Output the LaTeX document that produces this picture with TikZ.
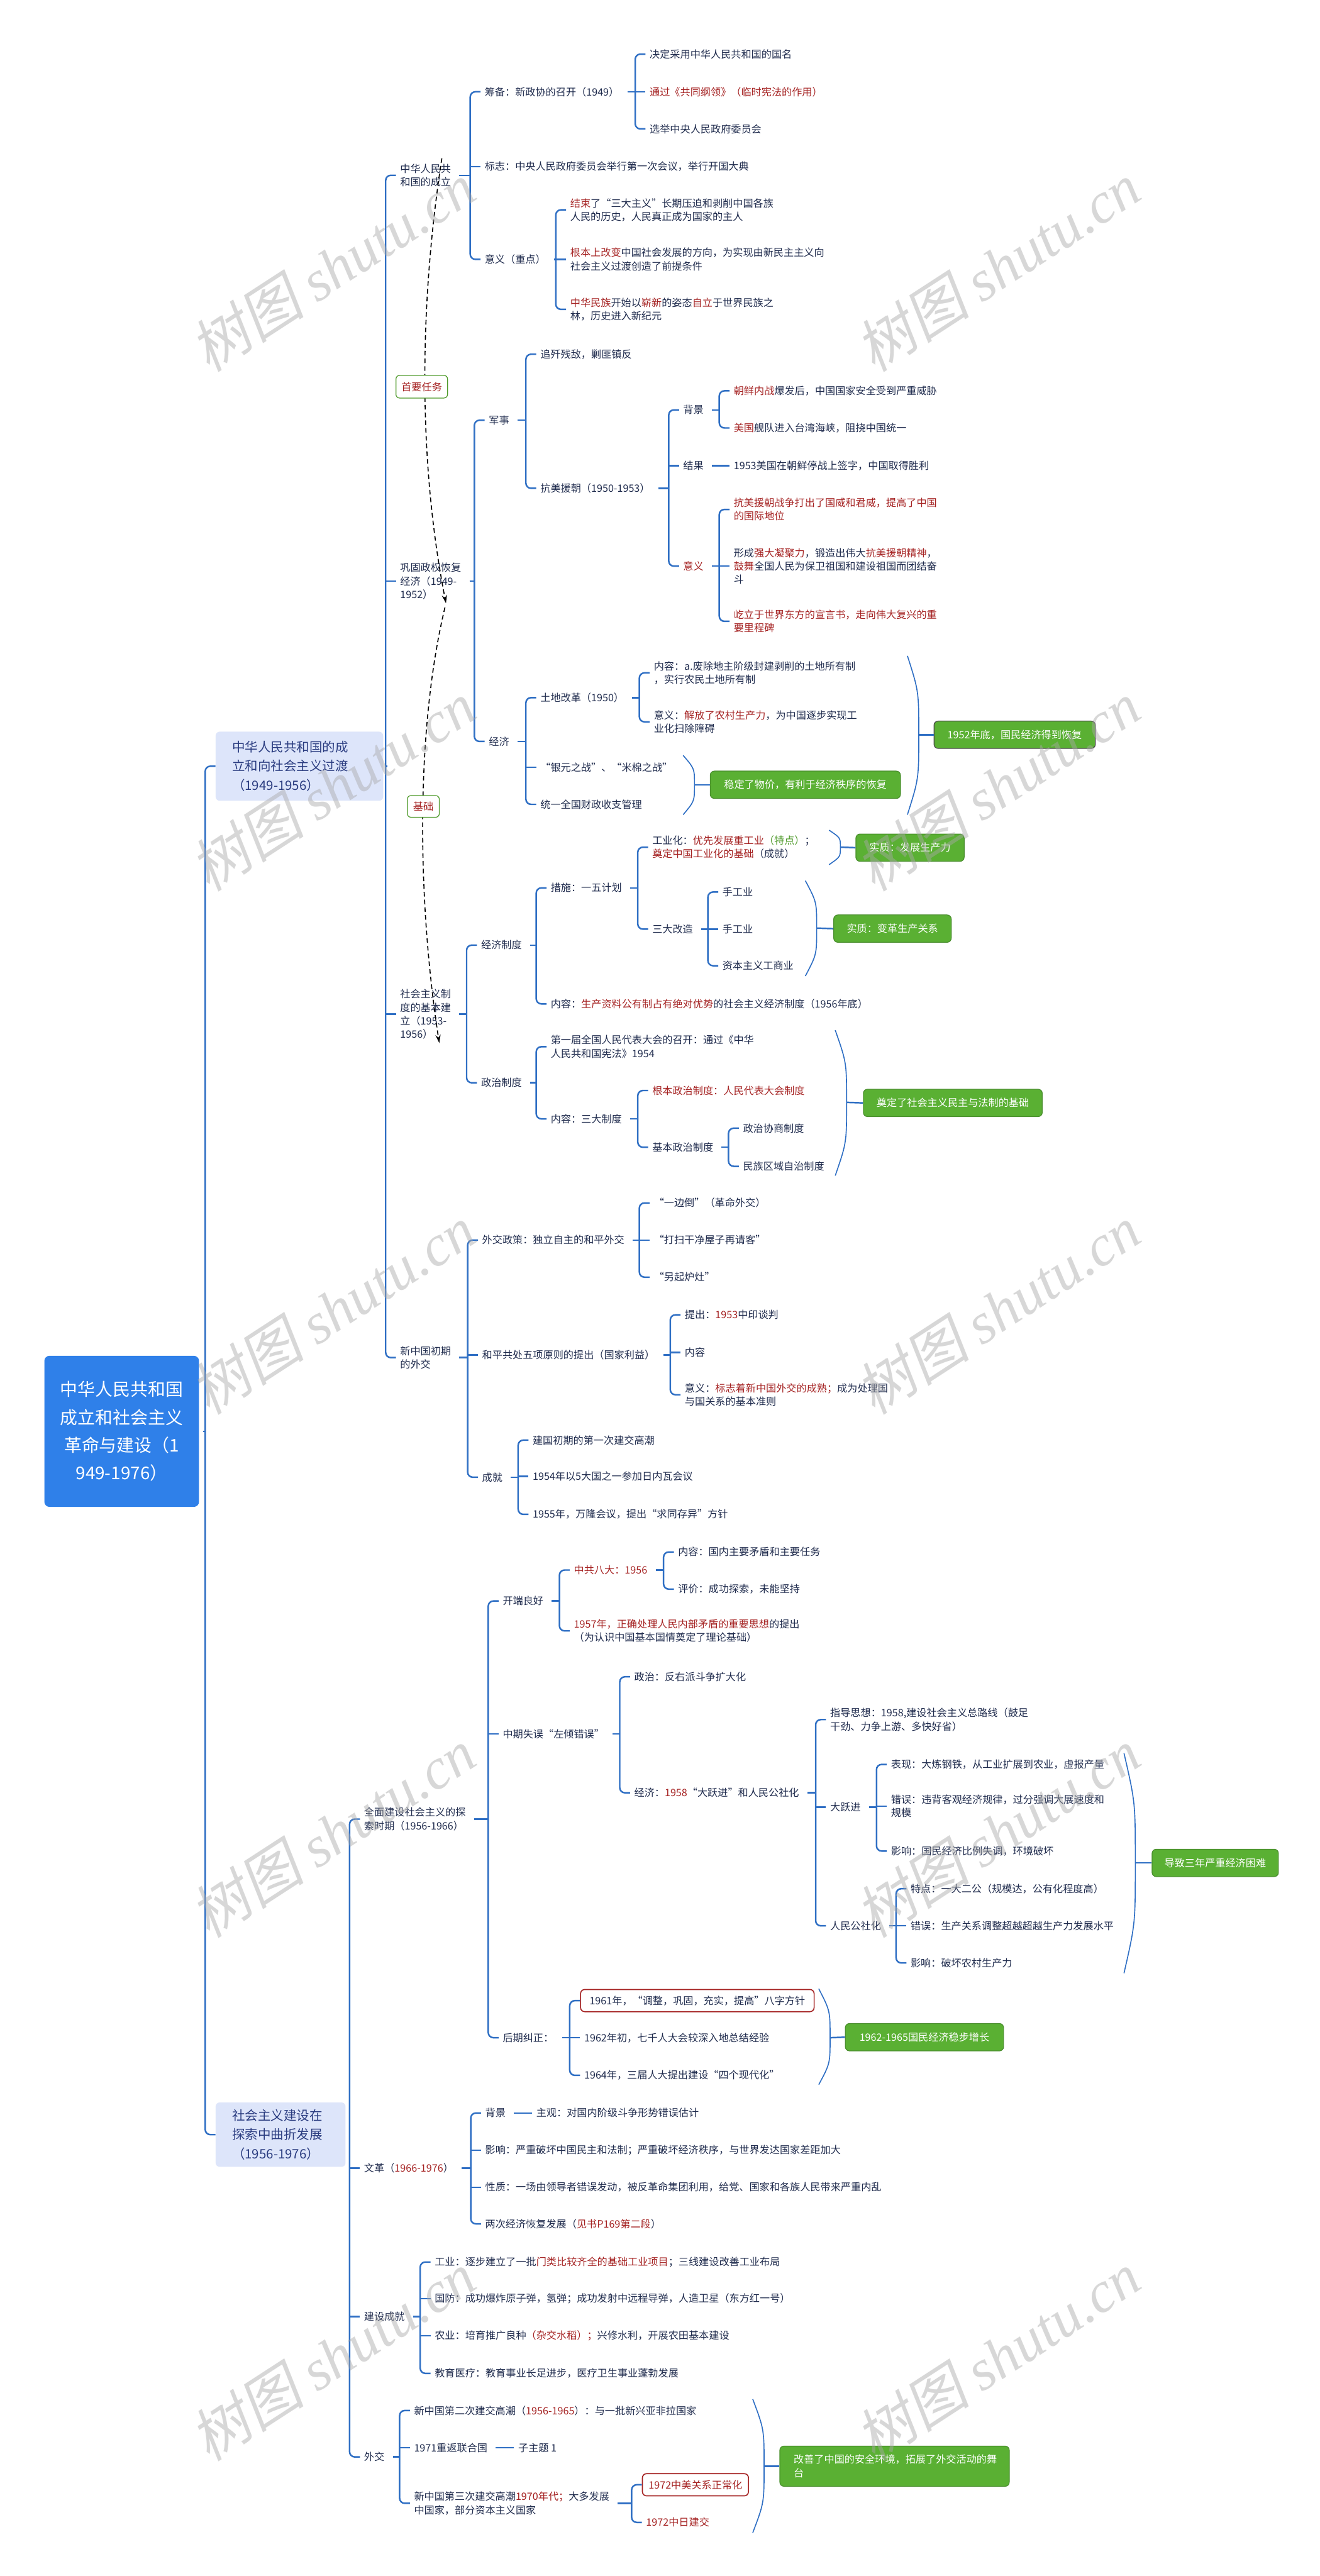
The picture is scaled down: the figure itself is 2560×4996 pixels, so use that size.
\documentclass[tikz,border=0pt]{standalone}
\usepackage{fontspec}
\setmainfont{Noto Sans CJK SC}
\newfontfamily\wmlat{Liberation Serif}
\newfontfamily\wmcjk{Noto Sans CJK SC}[FakeSlant=0.2]
\usetikzlibrary{arrows.meta}
\definecolor{nv}{HTML}{1F2B4D}
\definecolor{rd}{HTML}{A52222}
\definecolor{gt}{HTML}{4E9A2A}
\definecolor{ln}{HTML}{2F6FC4}
\definecolor{rootc}{HTML}{2F80E9}
\definecolor{lone}{HTML}{DDE5FA}
\definecolor{lonet}{HTML}{2A3C80}
\definecolor{gbox}{HTML}{5AB033}
\definecolor{gbd}{HTML}{4A8F2E}
\definecolor{wmc}{HTML}{A8A8A8}
\newcommand{\rtx}[1]{\textcolor{rd}{#1}}
\newcommand{\fsn}{\fontsize{19.7}{26}\selectfont}
\newcommand{\brk}[4]{%
  \draw[tk] ([xshift=8pt]#1.east) -- (#1.east -| #2,0);
  \draw[br] (#3.west) -| (#1.east -| #2,0) |- (#4.west);}
\newcommand{\midc}[2]{\draw[tk] (#2.west -| #1,0) -- (#2.west);}
\newcommand{\summ}[5]{%
  \draw[sm] (#1,#2) .. controls ({#1+22},{#2+0.45*(#4-#2)}) .. ({#1+22},#4)
     .. controls ({#1+22},{#4+0.55*(#3-#4)}) .. (#1,#3);
  \draw[tk] ({#1+22},#4) -- (#5.west);}
\begin{document}
\begin{tikzpicture}[x=1pt,y=-1pt,
  tx/.style={anchor=west,inner xsep=8pt,inner ysep=3pt,text=nv,font=\fsn,align=left},
  tk/.style={draw=ln,line width=3pt},
  br/.style={draw=ln,line width=3pt,rounded corners=10pt},
  sm/.style={draw=ln,line width=2pt},
  gb/.style={fill=gbox,draw=gbd,line width=1.5pt,rounded corners=8pt,text=white,font=\fsn,minimum height=53pt,inner xsep=0pt,align=center},
  rb/.style={anchor=west,draw=rd,line width=2pt,rounded corners=8pt,fill=white,text=nv,font=\fsn,minimum height=43pt,inner xsep=12pt},
  lab/.style={draw=gt,line width=1.5pt,rounded corners=7pt,fill=white,text=rd,font=\fsn,minimum height=44pt,inner xsep=0pt},
  rel/.style={draw=black,line width=2pt,dash pattern=on 9pt off 6pt,-{Stealth[length=16pt,width=10pt]}},
  lbox/.style={anchor=west,fill=lone,rounded corners=8pt,text=lonet,font=\fontsize{25}{37}\selectfont,align=left,inner xsep=32pt,inner ysep=0pt},
  wm/.style={text=wmc,opacity=0.45,rotate=33,font=\fontsize{112}{118}\selectfont,inner sep=0pt}]
\fill[white] (0,0) rectangle (2560,4996);
\useasboundingbox (0,0) rectangle (2560,4996);

% root and level 1
\node[fill=rootc,rounded corners=10pt,text=white,font=\fontsize{34}{54}\selectfont,align=center,minimum width=300pt,minimum height=293pt,inner sep=0pt] (R) at (236,2776) {中华人民共和国\\成立和社会主义\\革命与建设（1\\949-1976）};
\node[lbox,minimum height=134pt,text width=261pt] (la) at (418,1486) {中华人民共和国的成\\立和向社会主义过渡\\（1949-1956）};
\node[lbox,minimum height=125pt,text width=188pt] (lb) at (418,4140) {社会主义建设在\\探索中曲折发展\\（1956-1976）};
\brk{R}{398}{la}{lb}

% ===== first branch
\node[tx] (a1) at (768,340) {中华人民共\\和国的成立};
\node[tx] (a2) at (768,1127) {巩固政权恢复\\经济（1949-\\1952）};
\node[tx] (a3) at (768,1967) {社会主义制\\度的基本建\\立（1953-\\1956）};
\node[tx] (a4) at (768,2633) {新中国初期\\的外交};
\brk{la}{748}{a1}{a4} \midc{748}{a2} \midc{748}{a3}

\node[tx] (a11) at (932,178) {筹备：新政协的召开（1949）};
\node[tx] (a12) at (932,323) {标志：中央人民政府委员会举行第一次会议，举行开国大典};
\node[tx] (a13) at (932,503) {意义（重点）};
\brk{a1}{912}{a11}{a13} \midc{912}{a12}

\node[tx] (a111) at (1252,105) {决定采用中华人民共和国的国名};
\node[tx,text=rd] (a112) at (1252,178) {通过《共同纲领》（临时宪法的作用）};
\node[tx] (a113) at (1252,250) {选举中央人民政府委员会};
\brk{a11}{1232}{a111}{a113} \midc{1232}{a112}

\node[tx] (a131) at (1098,407) {\rtx{结束}了“三大主义”长期压迫和剥削中国各族\\人民的历史，人民真正成为国家的主人};
\node[tx] (a132) at (1098,503) {\rtx{根本上改变}中国社会发展的方向，为实现由新民主主义向\\社会主义过渡创造了前提条件};
\node[tx] (a133) at (1098,600) {\rtx{中华民族}开始以\rtx{崭新}的姿态\rtx{自立}于世界民族之\\林，历史进入新纪元};
\brk{a13}{1078}{a131}{a133} \midc{1078}{a132}

\node[tx] (a21) at (940,815) {军事};
\node[tx] (a22) at (940,1438) {经济};
\brk{a2}{920}{a21}{a22}

\node[tx] (a211) at (1040,687) {追歼残敌，剿匪镇反};
\node[tx] (a212) at (1040,947) {抗美援朝（1950-1953）};
\brk{a21}{1020}{a211}{a212}

\node[tx] (k1) at (1317,795) {背景};
\node[tx] (k2) at (1317,903) {结果};
\node[tx,text=rd] (k3) at (1317,1098) {意义};
\brk{a212}{1297}{k1}{k3} \midc{1297}{k2}

\node[tx] (k11) at (1415,758) {\rtx{朝鲜内战}爆发后，中国国家安全受到严重威胁};
\node[tx] (k12) at (1415,830) {\rtx{美国}舰队进入台湾海峡，阻挠中国统一};
\brk{k1}{1395}{k11}{k12}
\node[tx] (k21) at (1415,903) {1953美国在朝鲜停战上签字，中国取得胜利};
\draw[tk,shorten <=8pt] (k2.east) -- (k21.west);

\node[tx,text=rd] (k31) at (1415,988) {抗美援朝战争打出了国威和君威，提高了中国\\的国际地位};
\node[tx] (k32) at (1415,1098) {形成\rtx{强大凝聚力}，锻造出伟大\rtx{抗美援朝精神}，\\\rtx{鼓舞}全国人民为保卫祖国和建设祖国而团结奋\\斗};
\node[tx,text=rd] (k33) at (1415,1205) {屹立于世界东方的宣言书，走向伟大复兴的重\\要里程碑};
\brk{k3}{1395}{k31}{k33} \midc{1395}{k32}

\node[tx] (a221) at (1040,1353) {土地改革（1950）};
\node[tx] (a222) at (1040,1488) {“银元之战”、“米棉之战”};
\node[tx] (a223) at (1040,1560) {统一全国财政收支管理};
\brk{a22}{1020}{a221}{a223} \midc{1020}{a222}

\node[tx] (t1) at (1260,1305) {内容：a.废除地主阶级封建剥削的土地所有制\\，实行农民土地所有制};
\node[tx] (t2) at (1260,1400) {意义：\rtx{解放了农村生产力}，为中国逐步实现工\\业化扫除障碍};
\brk{a221}{1240}{t1}{t2}

\node[gb,minimum width=313pt,draw=black!70] (g1) at (1968,1425) {1952年底，国民经济得到恢复};
\node[gb,minimum width=369pt] (g2) at (1562,1522) {稳定了物价，有利于经济秩序的恢复};
\summ{1760}{1272}{1580}{1425}{g1}
\summ{1325}{1465}{1580}{1522}{g2}

% socialist system
\node[tx] (a31) at (925,1833) {经济制度};
\node[tx] (a32) at (925,2100) {政治制度};
\brk{a3}{905}{a31}{a32}

\node[tx] (e1) at (1060,1722) {措施：一五计划};
\node[tx] (e2) at (1060,1947) {内容：\rtx{生产资料公有制占有绝对优势}的社会主义经济制度（1956年底）};
\brk{a31}{1040}{e1}{e2}

\node[tx] (e11) at (1257,1643) {工业化：\rtx{优先发展重工业}\textcolor{gt}{（特点）}；\\\rtx{奠定中国工业化的基础}（成就）};
\node[tx] (e12) at (1257,1802) {三大改造};
\brk{e1}{1237}{e11}{e12}

\node[tx] (s1) at (1393,1730) {手工业};
\node[tx] (s2) at (1393,1802) {手工业};
\node[tx] (s3) at (1393,1873) {资本主义工商业};
\brk{e12}{1373}{s1}{s3} \midc{1373}{s2}

\node[gb,minimum width=210pt] (g3) at (1765,1644) {实质：发展生产力};
\node[gb,minimum width=228pt] (g4) at (1731,1801) {实质：变革生产关系};
\summ{1608}{1610}{1677}{1643}{g3}
\summ{1562}{1708}{1893}{1800}{g4}

\node[tx] (p1) at (1060,2030) {第一届全国人民代表大会的召开：通过《中华\\人民共和国宪法》1954};
\node[tx] (p2) at (1060,2170) {内容：三大制度};
\brk{a32}{1040}{p1}{p2}

\node[tx,text=rd] (p21) at (1257,2115) {根本政治制度：人民代表大会制度};
\node[tx] (p22) at (1257,2225) {基本政治制度};
\brk{p2}{1237}{p21}{p22}

\node[tx] (p221) at (1433,2188) {政治协商制度};
\node[tx] (p222) at (1433,2262) {民族区域自治制度};
\brk{p22}{1413}{p221}{p222}

\node[gb,minimum width=347pt] (g5) at (1848,2139) {奠定了社会主义民主与法制的基础};
\summ{1620}{1998}{2280}{2138}{g5}

% diplomacy
\node[tx] (f1) at (927,2405) {外交政策：独立自主的和平外交};
\node[tx] (f2) at (927,2628) {和平共处五项原则的提出（国家利益）};
\node[tx] (f3) at (927,2865) {成就};
\brk{a4}{907}{f1}{f3} \midc{907}{f2}

\node[tx] (f11) at (1260,2333) {“一边倒”（革命外交）};
\node[tx] (f12) at (1260,2405) {“打扫干净屋子再请客”};
\node[tx] (f13) at (1260,2477) {“另起炉灶”};
\brk{f1}{1240}{f11}{f13} \midc{1240}{f12}

\node[tx] (f21) at (1320,2550) {提出：\rtx{1953}中印谈判};
\node[tx] (f22) at (1320,2623) {内容};
\node[tx] (f23) at (1320,2705) {意义：\rtx{标志着新中国外交的成熟；}成为处理国\\与国关系的基本准则};
\brk{f2}{1300}{f21}{f23} \midc{1300}{f22}

\node[tx] (f31) at (1025,2793) {建国初期的第一次建交高潮};
\node[tx] (f32) at (1025,2863) {1954年以5大国之一参加日内瓦会议};
\node[tx] (f33) at (1025,2937) {1955年，万隆会议，提出“求同存异”方针};
\brk{f3}{1005}{f31}{f33} \midc{1005}{f32}

% relation lines
\coordinate (r1a) at (857,307);
\coordinate (r1b) at (865,1170);
\coordinate (r2a) at (863,1178);
\coordinate (r2b) at (852,2023);
\draw[rel] (r1a) .. controls (812,600) and (812,900) .. (r1b);
\draw[rel] (r2a) .. controls (805,1420) and (810,1750) .. (r2b);
\node[lab,minimum width=100pt] (lab1) at (818,750) {首要任务};
\node[lab,minimum width=62pt,minimum height=42pt] (lab2) at (821,1564) {基础};

% ===== second branch
\node[tx] (b1) at (698,3528) {全面建设社会主义的探\\索时期（1956-1966）};
\node[tx] (b2) at (698,4205) {文革（\rtx{1966-1976}）};
\node[tx] (b3) at (698,4493) {建设成就};
\node[tx] (b4) at (698,4765) {外交};
\brk{lb}{678}{b1}{b4} \midc{678}{b2} \midc{678}{b3}

\node[tx] (c1) at (967,3105) {开端良好};
\node[tx] (c2) at (967,3363) {中期失误“左倾错误”};
\node[tx] (c3) at (967,3952) {后期纠正：};
\brk{b1}{947}{c1}{c3} \midc{947}{c2}

\node[tx,text=rd] (c11) at (1105,3045) {中共八大：1956};
\node[tx] (c12) at (1105,3163) {\rtx{1957年，正确处理人民内部矛盾的重要思想}的提出\\（为认识中国基本国情奠定了理论基础）};
\brk{c1}{1085}{c11}{c12}

\node[tx] (c111) at (1307,3010) {内容：国内主要矛盾和主要任务};
\node[tx] (c112) at (1307,3082) {评价：成功探索，未能坚持};
\brk{c11}{1287}{c111}{c112}

\node[tx] (c21) at (1222,3252) {政治：反右派斗争扩大化};
\node[tx] (c22) at (1222,3477) {经济：\rtx{1958}“大跃进”和人民公社化};
\brk{c2}{1202}{c21}{c22}

\node[tx] (d1) at (1602,3335) {指导思想：1958,建设社会主义总路线（鼓足\\干劲、力争上游、多快好省）};
\node[tx] (d2) at (1602,3505) {大跃进};
\node[tx] (d3) at (1602,3735) {人民公社化};
\brk{c22}{1582}{d1}{d3} \midc{1582}{d2}

\node[tx] (d21) at (1720,3422) {表现：大炼钢铁，从工业扩展到农业，虚报产量};
\node[tx] (d22) at (1720,3503) {错误：违背客观经济规律，过分强调大展速度和\\规模};
\node[tx] (d23) at (1720,3590) {影响：国民经济比例失调，环境破坏};
\brk{d2}{1700}{d21}{d23} \midc{1700}{d22}

\node[tx] (d31) at (1758,3663) {特点：一大二公（规模达，公有化程度高）};
\node[tx] (d32) at (1758,3735) {错误：生产关系调整超越超越生产力发展水平};
\node[tx] (d33) at (1758,3807) {影响：破坏农村生产力};
\brk{d3}{1738}{d31}{d33} \midc{1738}{d32}

\node[gb,minimum width=245pt] (g6) at (2357,3613) {导致三年严重经济困难};
\summ{2180}{3400}{3827}{3613}{g6}

\node[rb,minimum width=453pt] (c31) at (1125,3880) {1961年，“调整，巩固，充实，提高”八字方针};
\node[tx] (c32) at (1125,3952) {1962年初，七千人大会较深入地总结经验};
\node[tx] (c33) at (1125,4025) {1964年，三届人大提出建设“四个现代化”};
\brk{c3}{1105}{c31}{c33} \midc{1105}{c32}

\node[gb,minimum width=307pt] (g7) at (1793,3951) {1962-1965国民经济稳步增长};
\summ{1588}{3857}{4043}{3952}{g7}

\node[tx] (w1) at (933,4098) {背景};
\node[tx] (w2) at (933,4170) {影响：严重破坏中国民主和法制；严重破坏经济秩序，与世界发达国家差距加大};
\node[tx] (w3) at (933,4242) {性质：一场由领导者错误发动，被反革命集团利用，给党、国家和各族人民带来严重内乱};
\node[tx] (w4) at (933,4313) {两次经济恢复发展（\rtx{见书P169第二段}）};
\brk{b2}{913}{w1}{w4} \midc{913}{w2} \midc{913}{w3}
\node[tx] (w11) at (1032,4098) {主观：对国内阶级斗争形势错误估计};
\draw[tk,shorten <=8pt] (w1.east) -- (w11.west);

\node[tx] (j1) at (835,4387) {工业：逐步建立了一批\rtx{门类比较齐全的基础工业项目}；三线建设改善工业布局};
\node[tx] (j2) at (835,4458) {国防：成功爆炸原子弹，氢弹；成功发射中远程导弹，人造卫星（东方红一号）};
\node[tx] (j3) at (835,4530) {农业：培育推广良种\rtx{（杂交水稻）；}兴修水利，开展农田基本建设};
\node[tx] (j4) at (835,4603) {教育医疗：教育事业长足进步，医疗卫生事业蓬勃发展};
\brk{b3}{815}{j1}{j4} \midc{815}{j2} \midc{815}{j3}

\node[tx] (h1) at (795,4675) {新中国第二次建交高潮（\rtx{1956-1965}）：与一批新兴亚非拉国家};
\node[tx] (h2) at (795,4747) {1971重返联合国};
\node[tx] (h3) at (795,4855) {新中国第三次建交高潮\rtx{1970年代；}大多发展\\中国家，部分资本主义国家};
\brk{b4}{775}{h1}{h3} \midc{775}{h2}
\node[tx] (h21) at (997,4747) {子主题 1};
\draw[tk,shorten <=8pt] (h2.east) -- (h21.west);

\node[rb,minimum width=205pt,text=rd] (h31) at (1245,4819) {1972中美关系正常化};
\node[tx,text=rd] (h32) at (1245,4892) {1972中日建交};
\brk{h3}{1225}{h31}{h32}

\node[gb,text width=391pt,inner xsep=27pt,minimum height=78pt,align=left] (g8) at (1735,4783) {改善了中国的安全环境，拓展了外交活动的舞\\台};
\summ{1460}{4653}{4912}{4783}{g8}

% watermarks
\foreach \wy in {518,1525,2540,3555,4570}{
  \node[wm] at (645,\wy) {\wmcjk 树图\ \wmlat\itshape shutu.cn};
  \node[wm] at (1935,\wy) {\wmcjk 树图\ \wmlat\itshape shutu.cn};
}
\end{tikzpicture}
\end{document}
